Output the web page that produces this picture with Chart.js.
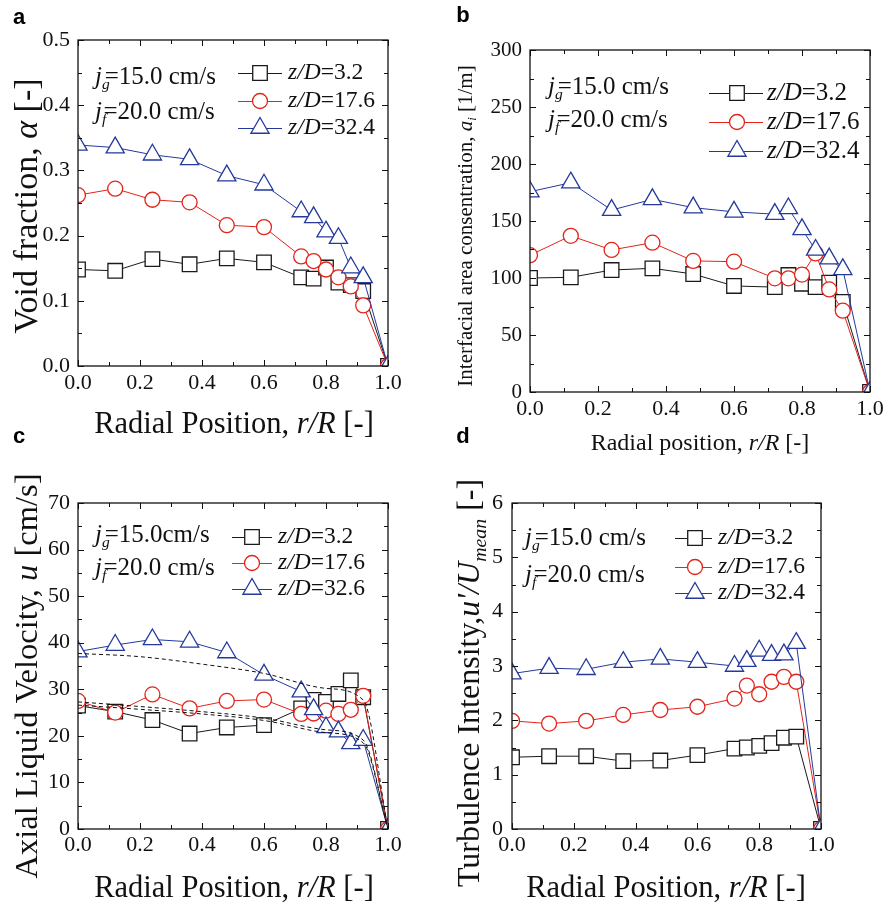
<!DOCTYPE html>
<html><head><meta charset="utf-8">
<script src="https://cdn.jsdelivr.net/npm/chart.js@4.4.1/dist/chart.umd.min.js"></script>
<style>
html,body{margin:0;padding:0;background:#fff;}
#wrap{position:relative;width:890px;height:905px;overflow:hidden;background:#fff;}
canvas{position:absolute;left:0;top:0;}
</style></head><body>
<div id="wrap">
<canvas id="ca" width="890" height="905"></canvas>
<canvas id="cb" width="890" height="905"></canvas>
<canvas id="cc" width="890" height="905"></canvas>
<canvas id="cd" width="890" height="905"></canvas>
</div>
<script>
// ---------- data ----------
const radialPos = [0, 0.12, 0.24, 0.36, 0.48, 0.6, 0.72, 0.76, 0.8, 0.84, 0.88, 0.92, 1.0];
const seriesLabels = ['3.2', '17.6', '32.4'];
const seriesLabelsC = ['3.2', '17.6', '32.6'];

// (a) void fraction
const voidZD3_2  = [0.148, 0.146, 0.164, 0.156, 0.165, 0.159, 0.136, 0.134, 0.151, 0.128, 0.124, 0.115, 0];
const voidZD17_6 = [0.262, 0.272, 0.255, 0.251, 0.216, 0.213, 0.168, 0.161, 0.148, 0.136, 0.122, 0.093, 0];
const voidZD32_4 = [0.339, 0.335, 0.324, 0.317, 0.292, 0.278, 0.237, 0.228, 0.206, 0.196, 0.151, 0.136, 0];

// (b) interfacial area concentration
const iacZD3_2  = [100, 100.6, 107, 108.5, 103.5, 93, 92, 102.6, 95, 92, 96, 79, 0];
const iacZD17_6 = [120, 137, 124.6, 131, 115, 114.3, 99.7, 99.7, 103, 121.6, 90, 71.3, 0];
const iacZD32_4 = [175.7, 183.6, 159.6, 169, 161.7, 158, 156, 161, 142.7, 124.6, 117, 107.6, 0];

// (c) axial liquid velocity
const velZD3_2  = [26.5, 25.2, 23.4, 20.5, 21.8, 22.3, 25.9, 27.7, 27.3, 29.0, 31.9, 28.3, 0];
const velZD17_6 = [27.5, 25.0, 28.9, 25.9, 27.5, 27.8, 24.7, 24.8, 25.4, 24.7, 25.6, 28.6, 0];
const velZD32_6 = [38.1, 39.5, 40.7, 40.2, 37.9, 33.1, 29.5, 25.7, 21.8, 20.9, 18.4, 19.1, 0];
// (c) dashed profiles
const velFitPos = [0, 0.2, 0.4, 0.6, 0.8, 0.92, 1.0];
const velFitUpper = [37.7, 37.0, 35.4, 33.4, 30.2, 27.7, 0];
const velFitMidA  = [27.3, 26.3, 25.2, 23.8, 21.3, 19.1, 0];
const velFitMidB  = [26.6, 25.7, 24.7, 23.3, 20.7, 18.5, 0];

// (d) turbulence intensity
const tiZD3_2  = [1.32, 1.34, 1.34, 1.25, 1.26, 1.36, 1.48, 1.50, 1.53, 1.58, 1.68, 1.70, 0];
const tiZD17_6 = [1.99, 1.94, 1.99, 2.10, 2.19, 2.25, 2.40, 2.64, 2.48, 2.71, 2.80, 2.71, 0];
const tiZD32_4 = [2.86, 2.96, 2.94, 3.07, 3.13, 3.07, 3.00, 3.09, 3.28, 3.20, 3.21, 3.42, 0];

// ticks
const xTickValues = [0, 0.2, 0.4, 0.6, 0.8, 1.0];
const xTickLabels = ['0.0', '0.2', '0.4', '0.6', '0.8', '1.0'];
const xMinorTicks = [0.1, 0.3, 0.5, 0.7, 0.9];
const voidTickValues = [0, 0.1, 0.2, 0.3, 0.4, 0.5];
const voidTickLabels = ['0.0', '0.1', '0.2', '0.3', '0.4', '0.5'];
const voidMinorTicks = [0.05, 0.15, 0.25, 0.35, 0.45];
const iacTickValues = [0, 50, 100, 150, 200, 250, 300];
const iacTickLabels = ['0', '50', '100', '150', '200', '250', '300'];
const iacMinorTicks = [25, 75, 125, 175, 225, 275];
const velTickValues = [0, 10, 20, 30, 40, 50, 60, 70];
const velTickLabels = ['0', '10', '20', '30', '40', '50', '60', '70'];
const velMinorTicks = [5, 15, 25, 35, 45, 55, 65];
const tiTickValues = [0, 1, 2, 3, 4, 5, 6];
const tiTickLabels = ['0', '1', '2', '3', '4', '5', '6'];
const tiMinorTicks = [0.5, 1.5, 2.5, 3.5, 4.5, 5.5];

// ---------- styling ----------
const SERIF = '"Liberation Serif","Times New Roman",serif';
const SANS = '"Liberation Sans",Arial,sans-serif';
const COLORS = ['#1a1a1a', '#e3241b', '#24399b'];
const STYLES = ['rect', 'circle', 'triangle'];
const RADII = {rect: 10.3, circle: 7.5, triangle: 10.5};
const TEXT = '#111';

function fontFor(s, size) {
  return (s.i ? 'italic ' : '') + (s.sub ? size * 0.62 : size) + 'px ' + SERIF;
}
function richWidth(ctx, segs, size) {
  let w = 0;
  segs.forEach(s => { ctx.font = fontFor(s, size); w += ctx.measureText(s.t).width * (s.sub && s.tuck ? 0.35 : 1); });
  return w;
}
function drawRich(ctx, segs, x, y, size, align, rotate) {
  const total = richWidth(ctx, segs, size);
  ctx.save();
  ctx.translate(x, y);
  if (rotate) ctx.rotate(-Math.PI / 2);
  let cx = align === 'center' ? -total / 2 : 0;
  ctx.textBaseline = 'middle';
  ctx.textAlign = 'left';
  ctx.fillStyle = TEXT;
  segs.forEach(s => {
    ctx.font = fontFor(s, size);
    const w = ctx.measureText(s.t).width;
    ctx.fillText(s.t, cx, s.sub ? size * 0.32 : 0);
    cx += w * (s.sub && s.tuck ? 0.35 : 1);
  });
  ctx.restore();
}
function marker(ctx, style, r, x, y, color) {
  ctx.save();
  ctx.beginPath();
  if (style === 'rect') {
    const s = Math.SQRT1_2 * r;
    ctx.rect(x - s, y - s, 2 * s, 2 * s);
  } else if (style === 'circle') {
    ctx.arc(x, y, r, 0, Math.PI * 2);
  } else {
    const h = Math.sin(Math.PI / 3) * r;
    ctx.moveTo(x, y - r);
    ctx.lineTo(x + h, y + r / 2);
    ctx.lineTo(x - h, y + r / 2);
    ctx.closePath();
  }
  ctx.fillStyle = '#fff';
  ctx.fill();
  ctx.lineWidth = 1.3;
  ctx.strokeStyle = color;
  ctx.stroke();
  ctx.restore();
}

const panels = [
  {
    id: 'ca', letter: 'a', letterPos: [19, 18],
    area: {l: 78, t: 40, r: 388, b: 366},
    yMin: 0, yMax: 0.5, yTicks: voidTickValues, yLabels: voidTickLabels, yMinor: voidMinorTicks,
    series: [voidZD3_2, voidZD17_6, voidZD32_4], legend: seriesLabels,
    tickSize: 22, yTickSize: 22, xPad: 4, yPad: 8,
    yTitle: {segs: [{t: 'Void fraction, '}, {t: 'α', i: true}, {t: ' [-]'}], x: 28, y: 206, size: 34},
    xTitle: {segs: [{t: 'Radial Position, '}, {t: 'r/R', i: true}, {t: ' [-]'}], x: 234, y: 425, size: 30.5},
    note: {x: 95, y: [77, 112], size: 25, gap: ' cm/s'},
    leg: {x1: 238, x2: 282, xm: 260, xt: 288, y: [73, 101, 128], size: 23.5}
  },
  {
    id: 'cb', letter: 'b', letterPos: [463, 16],
    area: {l: 530, t: 50, r: 870, b: 392},
    yMin: 0, yMax: 300, yTicks: iacTickValues, yLabels: iacTickLabels, yMinor: iacMinorTicks,
    series: [iacZD3_2, iacZD17_6, iacZD32_4], legend: seriesLabels,
    tickSize: 22, yTickSize: 21, xPad: 4, yPad: 8,
    yTitle: {segs: [{t: 'Interfacial area consentration, '}, {t: 'a', i: true}, {t: 'i', i: true, sub: true}, {t: ' [1/m]'}], x: 466, y: 226, size: 21},
    xTitle: {segs: [{t: 'Radial position, '}, {t: 'r/R', i: true}, {t: ' [-]'}], x: 700, y: 444, size: 24},
    note: {x: 548, y: [87, 120], size: 25, gap: ' cm/s'},
    leg: {x1: 709, x2: 763, xm: 737, xt: 767, y: [93, 122, 151], size: 25}
  },
  {
    id: 'cc', letter: 'c', letterPos: [19, 437],
    area: {l: 78, t: 503, r: 388, b: 829},
    yMin: 0, yMax: 70, yTicks: velTickValues, yLabels: velTickLabels, yMinor: velMinorTicks,
    series: [velZD3_2, velZD17_6, velZD32_6], legend: seriesLabelsC,
    fits: [velFitUpper, velFitMidA, velFitMidB],
    tickSize: 22, yTickSize: 22, xPad: 3, yPad: 8,
    yTitle: {segs: [{t: 'Axial Liquid Velocity, '}, {t: 'u', i: true}, {t: ' [cm/s]'}], x: 28, y: 676, size: 32.5},
    xTitle: {segs: [{t: 'Radial Position, '}, {t: 'r/R', i: true}, {t: ' [-]'}], x: 234, y: 889, size: 30.5},
    note: {x: 95, y: [535, 568], size: 25, gap: 'cm/s'},
    leg: {x1: 232, x2: 272, xm: 252, xt: 278, y: [537, 563, 589], size: 23.5}
  },
  {
    id: 'cd', letter: 'd', letterPos: [463, 437],
    area: {l: 512, t: 503, r: 821, b: 829},
    yMin: 0, yMax: 6, yTicks: tiTickValues, yLabels: tiTickLabels, yMinor: tiMinorTicks,
    series: [tiZD3_2, tiZD17_6, tiZD32_4], legend: seriesLabels,
    tickSize: 22, yTickSize: 22, xPad: 3, yPad: 9,
    yTitle: {segs: [{t: 'Turbulence Intensity,'}, {t: "u'/U", i: true}, {t: 'mean', i: true, sub: true}, {t: ' [-]'}], x: 471, y: 683, size: 32},
    xTitle: {segs: [{t: 'Radial Position, '}, {t: 'r/R', i: true}, {t: ' [-]'}], x: 666, y: 889, size: 30.5},
    note: {x: 525, y: [538, 575], size: 25, gap: ' cm/s'},
    leg: {x1: 675, x2: 712, xm: 695, xt: 718, y: [538, 567, 593], size: 23.5}
  }
];

function decorPlugin(p) {
  return {
    id: 'decor_' + p.id,
    afterDatasetsDraw(chart) {
      const ctx = chart.ctx;
      const a = chart.chartArea;
      const xs = chart.scales.x, ys = chart.scales.y;
      ctx.save();
      ctx.strokeStyle = '#111';
      ctx.lineWidth = 1.3;
      ctx.strokeRect(a.left, a.top, a.right - a.left, a.bottom - a.top);
      ctx.lineWidth = 1;
      ctx.beginPath();
      const tick = (vals, len) => {
        vals.forEach(v => {
          const px = Math.round(xs.getPixelForValue(v)) + 0.5;
          ctx.moveTo(px, a.bottom); ctx.lineTo(px, a.bottom - len);
          ctx.moveTo(px, a.top); ctx.lineTo(px, a.top + len);
        });
      };
      const ytick = (vals, len) => {
        vals.forEach(v => {
          const py = Math.round(ys.getPixelForValue(v)) + 0.5;
          ctx.moveTo(a.left, py); ctx.lineTo(a.left + len, py);
          ctx.moveTo(a.right, py); ctx.lineTo(a.right - len, py);
        });
      };
      tick(xTickValues, 6); tick(xMinorTicks, 4);
      ytick(p.yTicks, 6); ytick(p.yMinor, 4);
      ctx.stroke();
      ctx.restore();

      drawRich(ctx, p.yTitle.segs, p.yTitle.x, p.yTitle.y, p.yTitle.size, 'center', true);
      drawRich(ctx, p.xTitle.segs, p.xTitle.x, p.xTitle.y, p.xTitle.size, 'center', false);
      ctx.save();
      ctx.font = 'bold 22px ' + SANS;
      ctx.fillStyle = '#000';
      ctx.textAlign = 'center';
      ctx.textBaseline = 'middle';
      ctx.fillText(p.letter, p.letterPos[0], p.letterPos[1]);
      ctx.restore();
      drawRich(ctx, [{t: 'j', i: true}, {t: 'g', i: true, sub: true, tuck: true}, {t: '=15.0' + p.note.gap}], p.note.x, p.note.y[0], p.note.size, 'left', false);
      drawRich(ctx, [{t: 'j', i: true}, {t: 'f', i: true, sub: true, tuck: true}, {t: '=20.0 cm/s'}], p.note.x, p.note.y[1], p.note.size, 'left', false);
      p.legend.forEach((lab, k) => {
        const y = p.leg.y[k];
        ctx.save();
        ctx.strokeStyle = COLORS[k];
        ctx.lineWidth = 1;
        ctx.beginPath();
        ctx.moveTo(p.leg.x1, y + 0.5); ctx.lineTo(p.leg.x2, y + 0.5);
        ctx.stroke();
        ctx.restore();
        marker(ctx, STYLES[k], RADII[STYLES[k]], p.leg.xm, y, COLORS[k]);
        drawRich(ctx, [{t: 'z/D', i: true}, {t: '=' + lab}], p.leg.xt, y, p.leg.size, 'left', false);
      });
    }
  };
}

function makeChart(p) {
  const datasets = p.series.map((vals, k) => ({
    data: radialPos.map((x, i) => ({x: x, y: vals[i]})),
    borderColor: COLORS[k], borderWidth: 1,
    pointStyle: STYLES[k], pointRadius: RADII[STYLES[k]],
    pointBackgroundColor: '#fff', pointBorderColor: COLORS[k], pointBorderWidth: 1.3,
    order: 3 - k, clip: 0, tension: 0, fill: false
  }));
  (p.fits || []).forEach(f => datasets.push({
    data: velFitPos.map((x, i) => ({x: x, y: f[i]})),
    borderColor: '#111', borderWidth: 1, borderDash: [4, 3], pointRadius: 0,
    order: 0, clip: 0, tension: 0.3, cubicInterpolationMode: 'monotone', fill: false
  }));
  const a = p.area;
  return new Chart(document.getElementById(p.id), {
    type: 'line',
    data: {datasets},
    options: {
      responsive: false, animation: false, events: [],
      layout: {padding: {left: 0, top: a.t, right: 890 - a.r, bottom: 905 - a.b - 60}},
      plugins: {legend: {display: false}, tooltip: {enabled: false}, title: {display: false}},
      scales: {
        x: {
          type: 'linear', min: 0, max: 1,
          afterFit: s => { s.height = 60; },
          afterBuildTicks: s => { s.ticks = xTickValues.map(v => ({value: v})); },
          ticks: {autoSkip: false, maxRotation: 0, padding: p.xPad, color: TEXT,
                  font: {family: SERIF, size: p.tickSize}, callback: (v, i) => xTickLabels[i]},
          grid: {display: false, drawTicks: false}, border: {display: false}
        },
        y: {
          type: 'linear', min: p.yMin, max: p.yMax,
          afterFit: s => { s.width = a.l; },
          afterBuildTicks: s => { s.ticks = p.yTicks.map(v => ({value: v})); },
          ticks: {autoSkip: false, padding: p.yPad, color: TEXT,
                  font: {family: SERIF, size: p.yTickSize}, callback: (v, i) => p.yLabels[i]},
          grid: {display: false, drawTicks: false}, border: {display: false}
        }
      }
    },
    plugins: [decorPlugin(p)]
  });
}

panels.forEach(makeChart);
</script>
</body></html>
